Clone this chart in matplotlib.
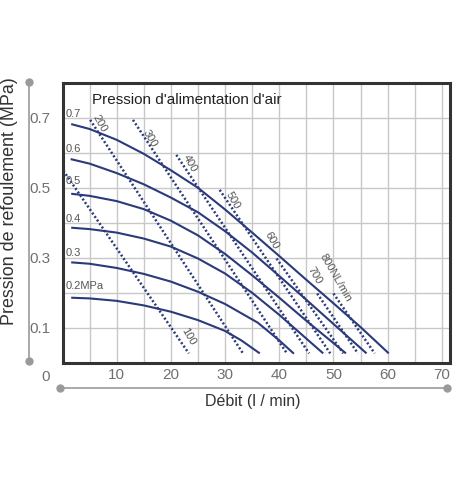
import numpy as np
import matplotlib
matplotlib.use("Agg")
import matplotlib.pyplot as plt
from matplotlib.lines import Line2D

plt.rcParams['font.family'] = ['Liberation Sans', 'DejaVu Sans']

# ---- data: discharge pressure curves (supply air pressure, MPa) ----
p02_x = [1.6, 5, 10, 15, 20, 25, 30, 33, 36.4]
p02_y = [0.186, 0.184, 0.177, 0.164, 0.146, 0.122, 0.091, 0.064, 0.027]
p03_x = [1.6, 5, 10, 15, 20, 25, 30, 36, 40, 42.7]
p03_y = [0.287, 0.283, 0.271, 0.254, 0.232, 0.203, 0.168, 0.115, 0.064, 0.026]
p04_x = [1.6, 5, 10, 15, 20, 25, 30, 35, 40, 48.1]
p04_y = [0.386, 0.382, 0.372, 0.355, 0.332, 0.298, 0.255, 0.200, 0.137, 0.027]
p05_x = [1.6, 5, 10, 15, 20, 25, 30, 35, 40, 45, 52.3]
p05_y = [0.483, 0.477, 0.462, 0.439, 0.406, 0.364, 0.311, 0.250, 0.186, 0.120, 0.027]
p06_x = [1.5, 5, 10, 15, 20, 25, 30, 35, 40, 45, 50, 56.1]
p06_y = [0.582, 0.569, 0.542, 0.510, 0.472, 0.430, 0.376, 0.315, 0.248, 0.180, 0.111, 0.027]
p07_x = [1.6, 5, 10, 15, 20, 25, 30, 35, 40, 45, 50, 55, 60.2]
p07_y = [0.682, 0.668, 0.637, 0.597, 0.550, 0.500, 0.438, 0.372, 0.305, 0.237, 0.170, 0.102, 0.027]

pressure_x = [p02_x, p03_x, p04_x, p05_x, p06_x, p07_x]
pressure_y = [p02_y, p03_y, p04_y, p05_y, p06_y, p07_y]
pressure_labels = ['0.2MPa', '0.3', '0.4', '0.5', '0.6', '0.7']
pressure_label_y = [0.219, 0.315, 0.412, 0.519, 0.612, 0.711]

# ---- data: air consumption lines (NL/min), start and end points ----
air_labels = ['100', '200', '300', '400', '500', '600', '700', '800NL/min']
air_x0 = [0.15, 5.1, 13.0, 21.0, 29.0, 39.5, 47.0, 50.0]
air_y0 = [0.549, 0.694, 0.694, 0.594, 0.494, 0.298, 0.198, 0.198]
air_x1 = [23.3, 33.3, 41.4, 45.5, 49.4, 51.8, 54.5, 57.6]
air_y1 = [0.027, 0.027, 0.027, 0.027, 0.027, 0.027, 0.027, 0.027]
air_lab_x = [23.2, 6.9, 16.1, 23.5, 31.5, 38.6, 46.5, 50.4]
air_lab_y = [0.074, 0.683, 0.640, 0.569, 0.464, 0.350, 0.250, 0.243]

x_ticks = list(range(0, 71, 5))
x_tick_labels = [str(v) if (v % 10 == 0 and v > 0) else '' for v in x_ticks]
y_ticks = [0, 0.1, 0.2, 0.3, 0.4, 0.5, 0.6, 0.7, 0.8]
y_tick_labels = ['', '0.1', '', '0.3', '', '0.5', '', '0.7', '']

navy = '#2b3a7a'
txtgray = '#555555'

fig = plt.figure(figsize=(4.58, 4.87), dpi=100)
ax = fig.add_axes([0.1365, 0.255, 0.846, 0.575])
ax.set_xlim(0, 71.5)
ax.set_ylim(0, 0.8)
ax.set_xticks(x_ticks)
ax.set_xticklabels(x_tick_labels)
ax.set_yticks(y_ticks)
ax.set_yticklabels(y_tick_labels)
ax.grid(True, color='#c8c8c8', lw=1.0)
ax.set_axisbelow(True)
ax.tick_params(axis='both', length=0, labelsize=11, labelcolor='#707070')
ax.tick_params(axis='x', pad=4)
ax.tick_params(axis='y', pad=9)
for s in ax.spines.values():
    s.set_linewidth(2.2)
    s.set_color('#333333')

for xs, ys in zip(pressure_x, pressure_y):
    ax.plot(xs, ys, color=navy, lw=1.5, solid_capstyle='butt', solid_joinstyle='round')

for x0, y0, x1, y1 in zip(air_x0, air_y0, air_x1, air_y1):
    ax.plot([x0, x1], [y0, y1], color=navy, lw=1.8, ls=(0, (0.8, 0.9)))

for lab, ly in zip(pressure_labels, pressure_label_y):
    ax.text(0.65, ly, lab, fontsize=8, color=txtgray, ha='left', va='center')

for lab, lx, ly in zip(air_labels, air_lab_x, air_lab_y):
    ax.text(lx, ly, lab, fontsize=8, color=txtgray, ha='center', va='center',
            rotation=-60, rotation_mode='anchor')

ax.text(5.4, 0.751, "Pression d'alimentation d'air", fontsize=11, color='#222222',
        ha='left', va='center')

ax.text(-3.2, -0.040, '0', fontsize=11, color='#707070', ha='center', va='center',
        clip_on=False)

ax.set_ylabel('Pression de refoulement (MPa)', fontsize=12.9, color='#333333')
ax.yaxis.set_label_coords(-0.114, 0.578)
ax.set_xlabel('Débit (l / min)', fontsize=11.5, color='#333333')
ax.xaxis.set_label_coords(0.491, -0.11)

# decorative gray guide lines with end dots
gray = '#9a9a9a'
fig.add_artist(Line2D([29/458, 29/458], [1-81.7/487, 1-360.7/487], transform=fig.transFigure,
                      color=gray, lw=1.2, marker='o', markersize=5, markevery=[0, 1]))
fig.add_artist(Line2D([60/458, 447/458], [1-388/487, 1-388/487], transform=fig.transFigure,
                      color=gray, lw=1.2, marker='o', markersize=5, markevery=[0, 1]))

fig.savefig('out.png', dpi=100)
